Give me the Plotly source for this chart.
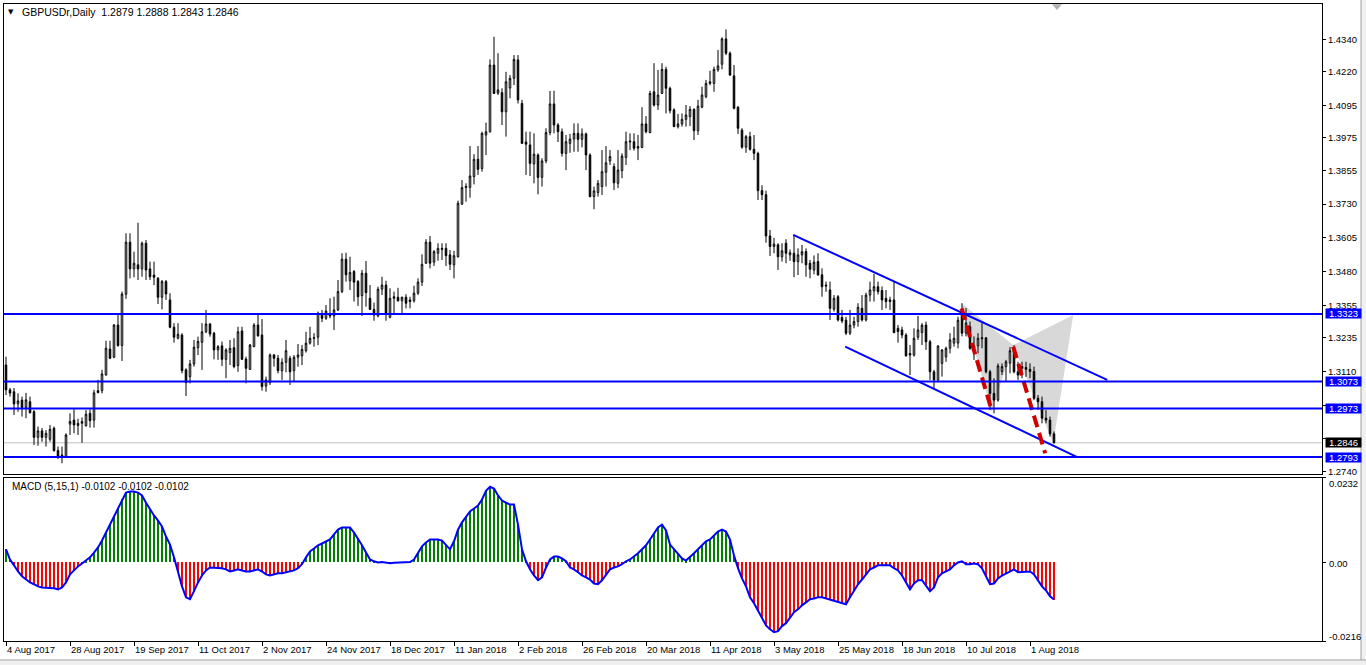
import plotly.graph_objects as go

# ---------------- data ----------------
date_labels = ["4 Aug 2017", "28 Aug 2017", "19 Sep 2017", "11 Oct 2017", "2 Nov 2017",
               "24 Nov 2017", "18 Dec 2017", "11 Jan 2018", "2 Feb 2018", "26 Feb 2018",
               "20 Mar 2018", "11 Apr 2018", "3 May 2018", "25 May 2018", "18 Jun 2018",
               "10 Jul 2018", "1 Aug 2018"]
label_bars = [0, 16, 32, 48, 64, 80, 96, 112, 128, 144, 160, 176, 192, 208, 224, 240, 256]

open_ = [
    1.3134, 1.3042, 1.3035, 1.2990, 1.3004, 1.2977, 1.2998, 1.2961, 1.2866, 1.2890,
    1.2866, 1.2859, 1.2900, 1.2817, 1.2797, 1.2795, 1.2915, 1.2930, 1.2910, 1.2918,
    1.2909, 1.2955, 1.2930, 1.3039, 1.3039, 1.3097, 1.3193, 1.3163, 1.3282, 1.3206,
    1.3396, 1.3589, 1.3490, 1.3505, 1.3490, 1.3585, 1.3490, 1.3467, 1.3455, 1.3385,
    1.3443, 1.3375, 1.3274, 1.3233, 1.3245, 1.3116, 1.3091, 1.3138, 1.3198, 1.3218,
    1.3257, 1.3286, 1.3252, 1.3190, 1.3205, 1.3155, 1.3180, 1.3198, 1.3132, 1.3260,
    1.3156, 1.3118, 1.3202, 1.3282, 1.3245, 1.3056, 1.3069, 1.3171, 1.3159, 1.3113,
    1.3144, 1.3159, 1.3113, 1.3163, 1.3168, 1.3187, 1.3215, 1.3233, 1.3237, 1.3322,
    1.3307, 1.3320, 1.3316, 1.3338, 1.3406, 1.3526, 1.3446, 1.3480, 1.3443, 1.3391,
    1.3474, 1.3381, 1.3340, 1.3316, 1.3415, 1.3430, 1.3311, 1.3381, 1.3385, 1.3372,
    1.3385, 1.3375, 1.3372, 1.3400, 1.3441, 1.3511, 1.3589, 1.3515, 1.3548, 1.3566,
    1.3566, 1.3542, 1.3505, 1.3535, 1.3730, 1.3791, 1.3792, 1.3832, 1.3896, 1.3862,
    1.3986, 1.3998, 1.4245, 1.4141, 1.4143, 1.4072, 1.4160, 1.4196, 1.4264, 1.4103,
    1.3960, 1.3949, 1.3879, 1.3912, 1.3829, 1.3890, 1.3995, 1.4101, 1.4023, 1.3998,
    1.3918, 1.3955, 1.3971, 1.3992, 1.3970, 1.3990, 1.3912, 1.3758, 1.3773, 1.3795,
    1.3848, 1.3890, 1.3869, 1.3807, 1.3854, 1.3903, 1.3960, 1.3961, 1.3937, 1.3940,
    1.4027, 1.3995, 1.4146, 1.4097, 1.4140, 1.4229, 1.4159, 1.4079, 1.4017, 1.4027,
    1.4044, 1.4054, 1.4081, 1.4002, 1.4089, 1.4128, 1.4177, 1.4177, 1.4227, 1.4248,
    1.4342, 1.4289, 1.4205, 1.4089, 1.4004, 1.3941, 1.3980, 1.3933, 1.3918, 1.3780,
    1.3765, 1.3612, 1.3573, 1.3579, 1.3535, 1.3585, 1.3542, 1.3548, 1.3517, 1.3542,
    1.3554, 1.3511, 1.3486, 1.3517, 1.3468, 1.3430, 1.3412, 1.3341, 1.3387, 1.3310,
    1.3300, 1.3252, 1.3282, 1.3295, 1.3344, 1.3301, 1.3393, 1.3409, 1.3424, 1.3410,
    1.3381, 1.3375, 1.3375, 1.3270, 1.3264, 1.3245, 1.3177, 1.3171, 1.3237, 1.3254,
    1.3282, 1.3220, 1.3109, 1.3079, 1.3140, 1.3164, 1.3196, 1.3215, 1.3215, 1.3319,
    1.3252, 1.3276, 1.3196, 1.3205, 1.3231, 1.3235, 1.3109, 1.3029, 1.3004, 1.3110,
    1.3128, 1.3141, 1.3190, 1.3109, 1.3128, 1.3125, 1.3118, 1.3110, 1.3011, 1.2998,
    1.2937, 1.2930, 1.2879]

high = [
    1.3165, 1.3049, 1.3049, 1.3029, 1.3017, 1.3031, 1.3017, 1.2967, 1.2906, 1.2901,
    1.2893, 1.2912, 1.2906, 1.2832, 1.2832, 1.2881, 1.2955, 1.2970, 1.2935, 1.2940,
    1.2967, 1.2970, 1.3042, 1.3079, 1.3116, 1.3224, 1.3224, 1.3286, 1.3326, 1.3406,
    1.3622, 1.3622, 1.3554, 1.3661, 1.3591, 1.3597, 1.3517, 1.3517, 1.3460, 1.3449,
    1.3449, 1.3400, 1.3289, 1.3289, 1.3252, 1.3122, 1.3153, 1.3227, 1.3239, 1.3289,
    1.3338, 1.3289, 1.3257, 1.3208, 1.3221, 1.3196, 1.3227, 1.3233, 1.3276, 1.3276,
    1.3165, 1.3212, 1.3289, 1.3326, 1.3304, 1.3091, 1.3177, 1.3175, 1.3171, 1.3159,
    1.3227, 1.3168, 1.3171, 1.3212, 1.3208, 1.3257, 1.3276, 1.3252, 1.3332, 1.3338,
    1.3356, 1.3381, 1.3387, 1.3449, 1.3548, 1.3550, 1.3535, 1.3486, 1.3449, 1.3486,
    1.3519, 1.3430, 1.3365, 1.3424, 1.3461, 1.3446, 1.3418, 1.3406, 1.3420, 1.3387,
    1.3396, 1.3387, 1.3428, 1.3455, 1.3544, 1.3600, 1.3612, 1.3560, 1.3585, 1.3585,
    1.3585, 1.3560, 1.3557, 1.3743, 1.3819, 1.3807, 1.3945, 1.3915, 1.3945, 1.3998,
    1.4032, 1.4266, 1.4350, 1.4289, 1.4159, 1.4220, 1.4208, 1.4282, 1.4282, 1.4116,
    1.3998, 1.3998, 1.3992, 1.3918, 1.3900, 1.4011, 1.4149, 1.4150, 1.4030, 1.4010,
    1.3986, 1.3990, 1.4029, 1.4029, 1.4010, 1.3995, 1.3918, 1.3795, 1.3819, 1.3930,
    1.3945, 1.3930, 1.3881, 1.3930, 1.3918, 1.3998, 1.3992, 1.3992, 1.3986, 1.4089,
    1.4056, 1.4150, 1.4252, 1.4227, 1.4252, 1.4239, 1.4165, 1.4085, 1.4064, 1.4066,
    1.4097, 1.4093, 1.4085, 1.4116, 1.4165, 1.4190, 1.4224, 1.4239, 1.4301, 1.4348,
    1.4377, 1.4295, 1.4245, 1.4093, 1.4011, 1.3986, 1.3998, 1.3986, 1.3924, 1.3800,
    1.3780, 1.3634, 1.3605, 1.3585, 1.3585, 1.3600, 1.3562, 1.3616, 1.3566, 1.3579,
    1.3566, 1.3523, 1.3540, 1.3548, 1.3492, 1.3443, 1.3443, 1.3393, 1.3393, 1.3338,
    1.3313, 1.3338, 1.3313, 1.3363, 1.3393, 1.3402, 1.3443, 1.3472, 1.3443, 1.3425,
    1.3412, 1.3387, 1.3443, 1.3282, 1.3276, 1.3252, 1.3208, 1.3270, 1.3316, 1.3289,
    1.3295, 1.3227, 1.3116, 1.3208, 1.3192, 1.3202, 1.3252, 1.3276, 1.3313, 1.3363,
    1.3345, 1.3295, 1.3240, 1.3252, 1.3289, 1.3237, 1.3116, 1.3085, 1.3140, 1.3140,
    1.3153, 1.3200, 1.3208, 1.3146, 1.3146, 1.3146, 1.3140, 1.3128, 1.3023, 1.3017,
    1.2967, 1.2943, 1.2888]

low = [
    1.3023, 1.3017, 1.2949, 1.2961, 1.2943, 1.2937, 1.2955, 1.2838, 1.2835, 1.2850,
    1.2832, 1.2850, 1.2813, 1.2786, 1.2770, 1.2789, 1.2875, 1.2881, 1.2875, 1.2846,
    1.2906, 1.2902, 1.2902, 1.3029, 1.3029, 1.3095, 1.3156, 1.3159, 1.3202, 1.3149,
    1.3379, 1.3455, 1.3459, 1.3449, 1.3461, 1.3449, 1.3449, 1.3430, 1.3360, 1.3340,
    1.3375, 1.3270, 1.3217, 1.3229, 1.3103, 1.3019, 1.3066, 1.3128, 1.3171, 1.3116,
    1.3252, 1.3239, 1.3155, 1.3153, 1.3130, 1.3085, 1.3134, 1.3122, 1.3109, 1.3153,
    1.3066, 1.3116, 1.3200, 1.3239, 1.3039, 1.3035, 1.3060, 1.3128, 1.3103, 1.3079,
    1.3107, 1.3060, 1.3073, 1.3128, 1.3134, 1.3180, 1.3210, 1.3202, 1.3208, 1.3293,
    1.3301, 1.3307, 1.3264, 1.3334, 1.3400, 1.3443, 1.3412, 1.3369, 1.3353, 1.3316,
    1.3350, 1.3338, 1.3298, 1.3311, 1.3393, 1.3298, 1.3307, 1.3326, 1.3369, 1.3326,
    1.3344, 1.3344, 1.3365, 1.3393, 1.3427, 1.3508, 1.3492, 1.3501, 1.3520, 1.3523,
    1.3501, 1.3486, 1.3455, 1.3532, 1.3727, 1.3739, 1.3754, 1.3803, 1.3838, 1.3850,
    1.3912, 1.3995, 1.4138, 1.4134, 1.4023, 1.3980, 1.4122, 1.4171, 1.4103, 1.3953,
    1.3838, 1.3834, 1.3807, 1.3766, 1.3795, 1.3881, 1.3985, 1.3992, 1.3960, 1.3906,
    1.3856, 1.3920, 1.3924, 1.3924, 1.3940, 1.3856, 1.3755, 1.3711, 1.3758, 1.3764,
    1.3795, 1.3875, 1.3782, 1.3789, 1.3826, 1.3875, 1.3930, 1.3928, 1.3893, 1.3937,
    1.3992, 1.3992, 1.4091, 1.4079, 1.4138, 1.4066, 1.4066, 1.4015, 1.4010, 1.4017,
    1.4017, 1.4019, 1.3967, 1.3986, 1.4085, 1.4122, 1.4170, 1.4146, 1.4220, 1.4229,
    1.4282, 1.4205, 1.4081, 1.3990, 1.3935, 1.3920, 1.3928, 1.3893, 1.3745, 1.3745,
    1.3587, 1.3538, 1.3548, 1.3486, 1.3517, 1.3511, 1.3520, 1.3459, 1.3467, 1.3511,
    1.3461, 1.3455, 1.3470, 1.3464, 1.3387, 1.3405, 1.3301, 1.3332, 1.3295, 1.3289,
    1.3245, 1.3245, 1.3270, 1.3276, 1.3295, 1.3295, 1.3369, 1.3369, 1.3395, 1.3338,
    1.3344, 1.3338, 1.3252, 1.3217, 1.3233, 1.3165, 1.3097, 1.3165, 1.3227, 1.3208,
    1.3190, 1.3079, 1.3048, 1.3070, 1.3091, 1.3146, 1.3177, 1.3202, 1.3196, 1.3240,
    1.3240, 1.3190, 1.3153, 1.3177, 1.3196, 1.3103, 1.2967, 1.2955, 1.2998, 1.3097,
    1.3073, 1.3103, 1.3103, 1.3079, 1.3085, 1.3090, 1.3085, 1.3004, 1.2967, 1.2918,
    1.2918, 1.2869, 1.2843]

close = [
    1.3042, 1.3030, 1.2990, 1.3001, 1.2977, 1.3005, 1.2957, 1.2866, 1.2890, 1.2866,
    1.2881, 1.2896, 1.2817, 1.2795, 1.2800, 1.2875, 1.2925, 1.2912, 1.2918, 1.2925,
    1.2952, 1.2928, 1.3031, 1.3032, 1.3101, 1.3196, 1.3159, 1.3282, 1.3206, 1.3397,
    1.3589, 1.3490, 1.3511, 1.3490, 1.3585, 1.3486, 1.3461, 1.3459, 1.3385, 1.3443,
    1.3397, 1.3274, 1.3237, 1.3248, 1.3113, 1.3069, 1.3138, 1.3200, 1.3221, 1.3257,
    1.3286, 1.3249, 1.3190, 1.3202, 1.3155, 1.3190, 1.3196, 1.3128, 1.3257, 1.3155,
    1.3122, 1.3208, 1.3282, 1.3242, 1.3054, 1.3079, 1.3171, 1.3159, 1.3113, 1.3144,
    1.3187, 1.3109, 1.3163, 1.3171, 1.3192, 1.3215, 1.3233, 1.3235, 1.3326, 1.3307,
    1.3334, 1.3316, 1.3338, 1.3406, 1.3526, 1.3468, 1.3477, 1.3441, 1.3387, 1.3474,
    1.3402, 1.3340, 1.3319, 1.3415, 1.3430, 1.3326, 1.3381, 1.3387, 1.3372, 1.3385,
    1.3363, 1.3369, 1.3400, 1.3441, 1.3507, 1.3589, 1.3511, 1.3554, 1.3566, 1.3563,
    1.3539, 1.3507, 1.3539, 1.3733, 1.3791, 1.3795, 1.3834, 1.3896, 1.3859, 1.3992,
    1.3998, 1.4245, 1.4140, 1.4153, 1.4072, 1.4183, 1.4196, 1.4266, 1.4116, 1.3955,
    1.3952, 1.3881, 1.3915, 1.3829, 1.3890, 1.3995, 1.4101, 1.4023, 1.3998, 1.3918,
    1.3961, 1.3971, 1.3992, 1.3970, 1.3990, 1.3912, 1.3758, 1.3779, 1.3807, 1.3850,
    1.3883, 1.3906, 1.3809, 1.3856, 1.3908, 1.3961, 1.3963, 1.3937, 1.3943, 1.4027,
    1.3998, 1.4140, 1.4097, 1.4134, 1.4229, 1.4159, 1.4076, 1.4017, 1.4027, 1.4044,
    1.4060, 1.4081, 1.4002, 1.4093, 1.4134, 1.4177, 1.4183, 1.4229, 1.4242, 1.4342,
    1.4289, 1.4208, 1.4085, 1.4011, 1.3941, 1.3980, 1.3933, 1.3918, 1.3780, 1.3765,
    1.3612, 1.3573, 1.3582, 1.3535, 1.3557, 1.3548, 1.3550, 1.3517, 1.3542, 1.3554,
    1.3505, 1.3489, 1.3515, 1.3468, 1.3424, 1.3427, 1.3344, 1.3381, 1.3301, 1.3297,
    1.3252, 1.3282, 1.3295, 1.3348, 1.3301, 1.3393, 1.3412, 1.3424, 1.3406, 1.3375,
    1.3369, 1.3369, 1.3254, 1.3258, 1.3245, 1.3168, 1.3171, 1.3233, 1.3264, 1.3282,
    1.3220, 1.3109, 1.3079, 1.3204, 1.3190, 1.3196, 1.3227, 1.3233, 1.3300, 1.3252,
    1.3290, 1.3196, 1.3205, 1.3233, 1.3235, 1.3109, 1.3029, 1.3004, 1.3131, 1.3128,
    1.3146, 1.3187, 1.3109, 1.3097, 1.3122, 1.3118, 1.3110, 1.3011, 1.2998, 1.2937,
    1.2930, 1.2879, 1.2846]

macd = [
    0.0036, 0.0008, -0.0008, -0.0025, -0.0038, -0.0047, -0.0055, -0.0060, -0.0066, -0.0069,
    -0.0069, -0.0071, -0.0071, -0.0074, -0.0069, -0.0055, -0.0033, -0.0022, -0.0011, -0.0003,
    0.0005, 0.0014, 0.0027, 0.0041, 0.0060, 0.0082, 0.0104, 0.0126, 0.0148, 0.0173,
    0.0192, 0.0195, 0.0195, 0.0192, 0.0184, 0.0164, 0.0145, 0.0129, 0.0115, 0.0099,
    0.0071, 0.0049, 0.0014, -0.0027, -0.0066, -0.0096, -0.0101, -0.0079, -0.0055, -0.0036,
    -0.0022, -0.0014, -0.0014, -0.0014, -0.0016, -0.0019, -0.0025, -0.0022, -0.0019, -0.0022,
    -0.0025, -0.0025, -0.0022, -0.0019, -0.0025, -0.0033, -0.0036, -0.0033, -0.0030, -0.0030,
    -0.0027, -0.0025, -0.0022, -0.0016, -0.0005, 0.0014, 0.0030, 0.0038, 0.0047, 0.0052,
    0.0058, 0.0063, 0.0077, 0.0090, 0.0096, 0.0096, 0.0096, 0.0082, 0.0066, 0.0047,
    0.0027, 0.0008, 0.0003, 0.0000, 0.0001, -0.0001, -0.0002, -0.0001, 0.0000, -0.0001,
    0.0000, 0.0001, 0.0008, 0.0025, 0.0044, 0.0055, 0.0063, 0.0063, 0.0063, 0.0060,
    0.0049, 0.0036, 0.0058, 0.0090, 0.0110, 0.0126, 0.0140, 0.0148, 0.0156, 0.0173,
    0.0197, 0.0208, 0.0203, 0.0184, 0.0170, 0.0164, 0.0159, 0.0159, 0.0104, 0.0036,
    0.0003, -0.0019, -0.0036, -0.0049, -0.0041, -0.0014, 0.0008, 0.0016, 0.0016, 0.0011,
    0.0003, -0.0014, -0.0019, -0.0027, -0.0036, -0.0041, -0.0047, -0.0058, -0.0060, -0.0049,
    -0.0033, -0.0019, -0.0014, -0.0011, -0.0005, 0.0003, 0.0008, 0.0016, 0.0025, 0.0036,
    0.0047, 0.0063, 0.0079, 0.0096, 0.0104, 0.0088, 0.0049, 0.0036, 0.0022, 0.0011,
    0.0005, 0.0014, 0.0025, 0.0036, 0.0047, 0.0058, 0.0063, 0.0074, 0.0085, 0.0090,
    0.0085, 0.0063, 0.0019, -0.0016, -0.0044, -0.0066, -0.0096, -0.0112, -0.0132, -0.0153,
    -0.0173, -0.0184, -0.0192, -0.0189, -0.0175, -0.0167, -0.0151, -0.0137, -0.0129, -0.0118,
    -0.0110, -0.0101, -0.0099, -0.0096, -0.0096, -0.0099, -0.0101, -0.0104, -0.0107, -0.0110,
    -0.0115, -0.0096, -0.0079, -0.0060, -0.0047, -0.0033, -0.0019, -0.0014, -0.0008, -0.0008,
    -0.0008, -0.0008, -0.0016, -0.0022, -0.0036, -0.0055, -0.0074, -0.0058, -0.0049, -0.0049,
    -0.0063, -0.0079, -0.0069, -0.0041, -0.0030, -0.0025, -0.0019, -0.0008, 0.0000, 0.0003,
    -0.0005, -0.0005, -0.0003, -0.0005, -0.0016, -0.0038, -0.0060, -0.0058, -0.0044, -0.0036,
    -0.0030, -0.0025, -0.0019, -0.0027, -0.0027, -0.0025, -0.0025, -0.0033, -0.0049, -0.0066,
    -0.0077, -0.0093, -0.0102]

# analyst drawings (bar index, price)
levels = [1.3323, 1.3073, 1.2973, 1.2793]
price_ticks = [1.4340, 1.4220, 1.4095, 1.3975, 1.3855, 1.3730, 1.3605, 1.3480,
               1.3355, 1.3235, 1.3110, 1.2985, 1.2860, 1.2740]
hidden_ticks = [1.2985, 1.2860]          # labels covered by the level boxes
macd_ticks = [0.0232, 0.0, -0.0216]
macd_tick_text = ["0.0232", "0.00", "-0.0216"]
chan_upper_x = [196.8, 275.3]
chan_upper_y = [1.3616, 1.3079]
chan_lower_x = [209.8, 267.8]
chan_lower_y = [1.3202, 1.2793]
tri1_x = [238.9, 246.4, 251.8]
tri1_y = [1.3363, 1.2961, 1.3208]
tri2_x = [251.8, 266.8, 261.8]
tri2_y = [1.3208, 1.3319, 1.2844]
red1_x = [238.9, 246.4]
red1_y = [1.3344, 1.2967]
red2_x = [251.8, 259.8]
red2_y = [1.3202, 1.2807]

symbol = "GBPUSDr,Daily"
macd_name = "MACD (5,15,1)"

# ---------------- figure ----------------
bars = list(range(len(close)))
FONT = "Liberation Sans, Arial, sans-serif"
BLUE = "#0000FF"

fig = go.Figure()

fig.add_trace(go.Candlestick(
    x=bars, open=open_, high=high, low=low, close=close,
    increasing=dict(line=dict(color="black", width=1), fillcolor="white"),
    decreasing=dict(line=dict(color="black", width=1), fillcolor="black"),
    whiskerwidth=0, xaxis="x", yaxis="y", hoverinfo="skip"))

for cx, cy in ((chan_upper_x, chan_upper_y), (chan_lower_x, chan_lower_y)):
    fig.add_trace(go.Scatter(x=cx, y=cy, mode="lines", line=dict(color=BLUE, width=2),
                             hoverinfo="skip", xaxis="x", yaxis="y"))

for rx, ry in ((red1_x, red1_y), (red2_x, red2_y)):
    fig.add_trace(go.Scatter(x=rx, y=ry, mode="lines",
                             line=dict(color="#D00000", width=4, dash="12px,6px"),
                             hoverinfo="skip", xaxis="x", yaxis="y"))

# MACD histogram: green above zero, red below; thick when moving away from zero
hist_colors, hist_widths = [], []
for i, v in enumerate(macd):
    hist_colors.append("#008000" if v >= 0 else "#FF0000")
    away = i == 0 or abs(v) > abs(macd[i - 1])
    hist_widths.append(0.72 if away else 0.25)
fig.add_trace(go.Bar(x=bars, y=macd, marker=dict(color=hist_colors, line=dict(width=0)),
                     width=hist_widths, xaxis="x2", yaxis="y2", hoverinfo="skip"))
fig.add_trace(go.Scatter(x=bars, y=macd, mode="lines", line=dict(color=BLUE, width=2),
                         xaxis="x2", yaxis="y2", hoverinfo="skip"))

shapes = []
# harmonic-pattern triangles, drawn beneath the candles
for tx, ty in ((tri1_x, tri1_y), (tri2_x, tri2_y)):
    path = "M " + " L ".join(f"{a},{b}" for a, b in zip(tx, ty)) + " Z"
    shapes.append(dict(type="path", xref="x", yref="y", path=path, layer="below",
                       fillcolor="#D8D8D8", line=dict(width=0)))
for lv in levels:
    shapes.append(dict(type="line", xref="x domain", x0=0, x1=1, yref="y", y0=lv, y1=lv,
                       line=dict(color=BLUE, width=2)))
shapes.append(dict(type="line", xref="x domain", x0=0, x1=1, yref="y",
                   y0=close[-1], y1=close[-1], line=dict(color="#C0C0C0", width=1),
                   layer="below"))
# chart-shift marker and window edges (decoration)
shapes.append(dict(type="path", xref="paper", yref="paper",
                   path="M 0.7951 0.9995 L 0.8027 0.9995 L 0.7989 0.9906 Z",
                   fillcolor="#B0B0B0", line=dict(width=0)))
shapes.append(dict(type="rect", xref="paper", yref="paper", x0=1.0296, x1=1.04,
                   y0=-0.05, y1=1.01, fillcolor="#F0F0F0", line=dict(color="#A0A0A0", width=1)))
shapes.append(dict(type="rect", xref="paper", yref="paper", x0=-0.01, x1=1.04,
                   y0=-0.05, y1=-0.0298, fillcolor="#F0F0F0", line=dict(color="#A0A0A0", width=1)))

ann = []
ann.append(dict(xref="paper", yref="paper", x=0.0014, y=0.9874, xanchor="left", yanchor="middle",
                text="▼", showarrow=False, font=dict(family="DejaVu Sans", size=7, color="black")))
ann.append(dict(xref="paper", yref="paper", x=0.0121, y=0.9874, xanchor="left", yanchor="middle",
                text=f"{symbol}  {open_[-1]:.4f} {high[-1]:.4f} {low[-1]:.4f} {close[-1]:.4f}",
                showarrow=False, font=dict(family=FONT, size=10.5, color="black")))
ann.append(dict(xref="paper", yref="paper", x=0.0045, y=0.2418, xanchor="left", yanchor="middle",
                text=f"{macd_name} {macd[-1]:.4f} {macd[-1]:.4f} {macd[-1]:.4f}",
                showarrow=False, font=dict(family=FONT, size=10, color="black")))
for lv in levels:
    ann.append(dict(xref="paper", x=1, xanchor="left", xshift=3, yref="y", y=lv,
                    yanchor="middle", text=f"{lv:.4f}", showarrow=False,
                    font=dict(family=FONT, size=9.5, color="white"), bgcolor=BLUE,
                    width=35, height=9, borderpad=0, align="center"))
ann.append(dict(xref="paper", x=1, xanchor="left", xshift=3, yref="y", y=close[-1],
                yanchor="middle", text=f"{close[-1]:.4f}", showarrow=False,
                font=dict(family=FONT, size=9.5, color="white"), bgcolor="black",
                width=35, height=9, borderpad=0, align="center"))
for val, txt, ys in zip(macd_ticks, macd_tick_text, (-6, -1, 5)):
    ann.append(dict(xref="paper", x=1, xanchor="left", xshift=5, yref="y2", y=val,
                    yanchor="middle", yshift=ys, text=txt, showarrow=False,
                    font=dict(family=FONT, size=9.5, color="black")))

axis_common = dict(showgrid=False, zeroline=False, showline=True, linecolor="black",
                   linewidth=1, mirror=True, fixedrange=True, automargin=False)
fig.update_layout(
    width=1366, height=665,
    margin=dict(l=4, r=44, t=4, b=24, autoexpand=False),
    paper_bgcolor="white", plot_bgcolor="white", showlegend=False,
    font=dict(family=FONT, size=10, color="black"),
    boxgap=0.45, bargap=0,
    xaxis=dict(domain=[0, 1], anchor="y", range=[-0.5, 329], showticklabels=False,
               ticks="", rangeslider=dict(visible=False), **axis_common),
    yaxis=dict(domain=[0.2622, 1], anchor="x", side="right", range=[1.27304, 1.44712],
               tickvals=price_ticks,
               ticktext=["" if v in hidden_ticks else f"{v:.4f}" for v in price_ticks],
               tickfont=dict(size=9.5),
               ticks="outside", ticklen=3, tickcolor="black", **axis_common),
    xaxis2=dict(domain=[0, 1], anchor="y2", matches="x", range=[-0.5, 329],
                tickvals=label_bars, ticktext=date_labels, ticks="outside", ticklen=4,
                tickangle=0, tickfont=dict(size=9.5),
                tickcolor="black", ticklabelposition="outside right", **axis_common),
    yaxis2=dict(domain=[0, 0.2559], anchor="x2", side="right", range=[-0.0216, 0.0232],
                tickvals=macd_ticks, showticklabels=False, ticks="outside", ticklen=3,
                tickcolor="black", **axis_common),
    shapes=shapes, annotations=ann,
)

fig.write_html("out.html", config={"displayModeBar": False},
               post_script="document.body.style.margin='0';document.body.style.overflow='hidden';")
